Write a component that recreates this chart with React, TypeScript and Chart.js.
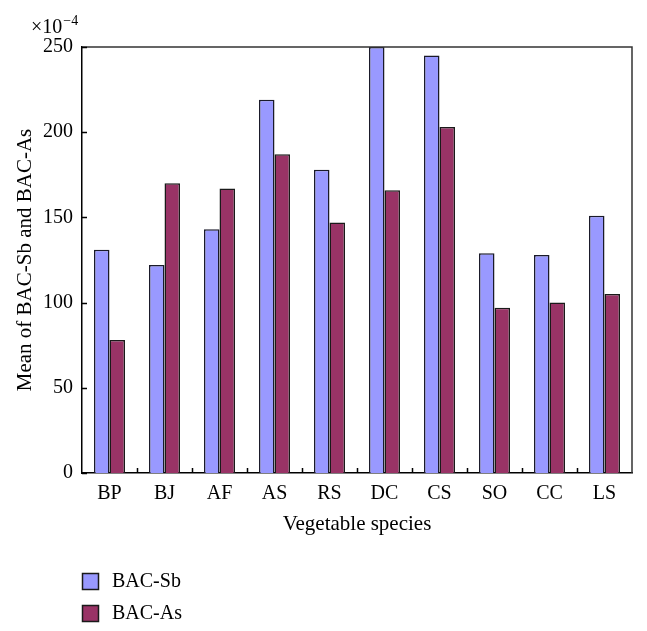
import React, { useEffect, useRef } from "react";
import { Chart, registerables } from "chart.js";

Chart.register(...registerables);

const categories = ["BP", "BJ", "AF", "AS", "RS", "DC", "CS", "SO", "CC", "LS"];
const bacSb = [131, 122, 143, 219, 178, 250, 245, 129, 128, 151];
const bacAs = [78, 170, 167, 187, 147, 166, 203, 97, 100, 105];
const yTicks = [0, 50, 100, 150, 200, 250];
const seriesNames = ["BAC-Sb", "BAC-As"];
const seriesColors = ["#9999FF", "#993366"];
const yTitle = "Mean of BAC-Sb and BAC-As";
const xTitle = "Vegetable species";
const multiplierBase = "×10";
const multiplierExp = "−4";

const FONT = "'Liberation Serif', 'DejaVu Serif', serif";

const decorPlugin = {
  id: "decor",
  afterDraw(chart: any) {
    const { ctx, chartArea } = chart;
    const { left, right, top, bottom } = chartArea;
    const x = chart.scales.x;
    const y = chart.scales.y;
    ctx.save();
    // frame top & right
    ctx.strokeStyle = "#333";
    ctx.lineWidth = 1.5;
    ctx.beginPath();
    ctx.moveTo(left, top);
    ctx.lineTo(right, top);
    ctx.lineTo(right, bottom);
    ctx.stroke();
    // y ticks inward
    ctx.strokeStyle = "#000";
    ctx.lineWidth = 1.5;
    ctx.beginPath();
    yTicks.forEach((v) => {
      const py = Math.round(y.getPixelForValue(v)) + 0.5;
      ctx.moveTo(left, py);
      ctx.lineTo(left + 5, py);
    });
    // x ticks between categories, inward
    const step = x.getPixelForValue(1) - x.getPixelForValue(0);
    for (let i = 0; i < categories.length - 1; i++) {
      const px = Math.round(x.getPixelForValue(i) + step / 2) + 0.5;
      ctx.moveTo(px, bottom);
      ctx.lineTo(px, bottom - 5);
    }
    ctx.stroke();
    // multiplier label
    ctx.fillStyle = "#000";
    ctx.textBaseline = "alphabetic";
    ctx.textAlign = "left";
    ctx.font = `20px ${FONT}`;
    ctx.fillText(multiplierBase, 31, 33);
    const w = ctx.measureText(multiplierBase).width;
    ctx.font = `14px ${FONT}`;
    ctx.fillText(multiplierExp, 31 + w + 1, 25);
    // legend
    const ds = chart.data.datasets;
    ds.forEach((d: any, i: number) => {
      const bx = 82;
      const by = 573 + i * 32;
      ctx.fillStyle = d.backgroundColor;
      ctx.fillRect(bx, by, 16, 16);
      ctx.strokeStyle = "#1a1a1a";
      ctx.lineWidth = 1.5;
      ctx.strokeRect(bx + 0.5, by + 0.5, 16, 16);
      ctx.fillStyle = "#000";
      ctx.font = `20px ${FONT}`;
      ctx.textBaseline = "middle";
      ctx.fillText(d.label, 112, by + 9);
    });
    ctx.restore();
  },
};

export default function App() {
  const ref = useRef<HTMLCanvasElement | null>(null);
  useEffect(() => {
    if (!ref.current) return;
    const chart = new Chart(ref.current, {
      type: "bar",
      data: {
        labels: categories,
        datasets: [
          {
            label: seriesNames[0],
            data: bacSb,
            backgroundColor: seriesColors[0],
            borderColor: "#1a1a2a",
            borderWidth: 1.5,
          },
          {
            label: seriesNames[1],
            data: bacAs,
            backgroundColor: seriesColors[1],
            borderColor: "#1a1a1a",
            borderWidth: 1.5,
          },
        ],
      },
      options: {
        responsive: false,
        animation: false,
        devicePixelRatio: 1,
        layout: { padding: { left: 0, right: 15, top: 47, bottom: 94 } },
        datasets: { bar: { categoryPercentage: 0.5636, barPercentage: 1 } },
        plugins: {
          legend: { display: false },
          tooltip: { enabled: false },
        },
        scales: {
          x: {
            offset: true,
            grid: { display: false, drawTicks: false },
            border: { display: true, color: "#000", width: 1.5 },
            ticks: { color: "#000", padding: 9, font: { family: FONT, size: 20 } },
            title: {
              display: true,
              text: xTitle,
              color: "#000",
              padding: { top: 0, bottom: 0 },
              font: { family: FONT, size: 21 },
            },
            afterFit(scale: any) {
              scale.height = 64;
            },
          },
          y: {
            min: 0,
            max: 250,
            grid: { display: false, drawTicks: false },
            border: { display: true, color: "#000", width: 1.5 },
            ticks: { stepSize: 50, color: "#000", padding: 9, font: { family: FONT, size: 20 } },
            title: {
              display: true,
              text: yTitle,
              color: "#000",
              padding: { top: 13, bottom: 0 },
              font: { family: FONT, size: 21 },
            },
            afterFit(scale: any) {
              scale.width = 82;
            },
          },
        },
      },
      plugins: [decorPlugin],
    });
    return () => chart.destroy();
  }, []);
  return (
    <div style={{ position: "fixed", left: 0, top: 0, width: 647, height: 631, background: "#fff" }}>
      <canvas ref={ref} width={647} height={631} style={{ display: "block" }} />
    </div>
  );
}
